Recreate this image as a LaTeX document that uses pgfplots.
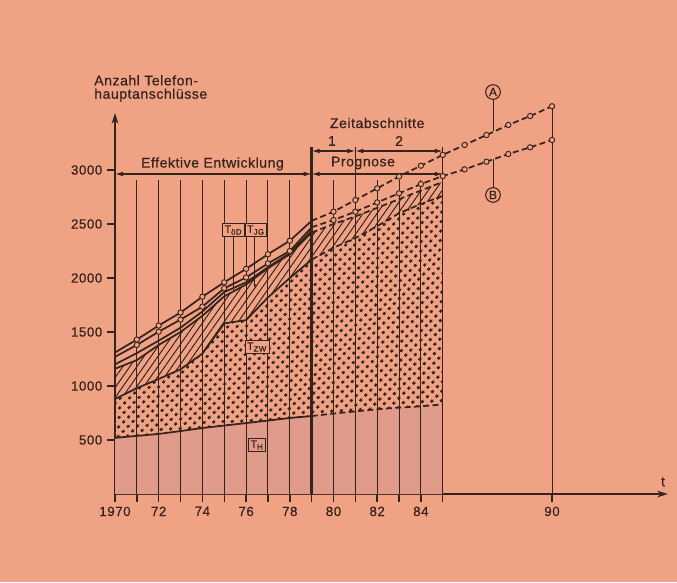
\documentclass[border=0pt]{standalone}
\usepackage{fontspec}
\setmainfont{Liberation Sans}[LetterSpace=4,FakeBold=0.6]
\usepackage{pgfplots}
\usepackage{pgfplotstable}
\pgfplotsset{compat=1.18}
\usepgfplotslibrary{fillbetween}
\usetikzlibrary{patterns.meta,arrows.meta}

\definecolor{bg}{RGB}{240,162,132}
\definecolor{ink}{RGB}{55,35,30}
\definecolor{thfill}{RGB}{225,155,139}

% L1 = T_H, L2 = +T_ZW, D = +T_JG, C, B, A = upper lines
\pgfplotstableread{
year L1  L2   D    C    B    A
1970 520 880  1160 1200 1270 1310
1971 538 980  1240 1305 1380 1430
1972 556 1065 1380 1420 1503 1560
1973 583 1155 1500 1540 1615 1680
1974 611 1300 1650 1690 1735 1827
1975 634 1580 1830 1870 1905 1960
1976 657 1610 1940 1960 2005 2085
1977 680 1820 2090 2100 2135 2220
1978 704 2000 2220 2230 2250 2345
1979 722 2170 2420 2440 2470 2530
1980 745 2280 2500 nan  2537 2614
1981 765 2370 2570 nan  2614 2722
1982 785 2480 2650 nan  2700 2830
1983 800 2600 2730 nan  2784 2940
1984 812 2685 2810 nan  2870 3040
1985 830 2760 2890 nan  2944 3140
1986 nan nan  nan  nan  3006 3232
1987 nan nan  nan  nan  3077 3324
1988 nan nan  nan  nan  3148 3417
1989 nan nan  nan  nan  3210 3500
1990 nan nan  nan  nan  3278 3590
}\stack

\begin{document}
\begin{tikzpicture}
\begin{axis}[
    set layers,
    at={(86.25pt,-370.5pt)}, anchor=south west,
    x=16.3875pt, y=0.081pt,
    xmin=1970, xmax=1995.3, ymin=0, ymax=3528,
    enlargelimits=false, clip=false,
    axis lines=left,
    axis line style={ink, line width=1.3pt, -{Stealth[length=8pt,width=5pt]}},
    xtick={1970,1971,...,1985,1990},
    xticklabels={1970,,72,,74,,76,,78,,80,,82,,84,,90},
    ytick={500,1000,...,3000},
    yticklabels={500,1000,1500,2000,2500,3000},
    tick align=outside, major tick length=6pt,
    tick style={ink, line width=1.1pt},
    every tick label/.append style={font=\fontsize{10}{12}\selectfont, text=ink},
    dashline/.style={ink, line width=1.3pt, dash pattern=on 4.5pt off 2.5pt},
    solidline/.style={ink, line width=1.3pt},
    circ/.style={only marks, mark=*, mark size=2pt,
        mark options={fill=bg, draw=ink, line width=0.7pt}},
]
% paper
\begin{pgfonlayer}{axis background}
\fill[bg] (axis cs:1964.737,4574.07) rectangle (axis cs:1995.72,-814.8);
\end{pgfonlayer}

% areas
\addplot[draw=none, name path=p1, forget plot, restrict x to domain=1970:1985] table[x=year,y=L1]{\stack};
\addplot[draw=none, name path=p2, forget plot, restrict x to domain=1970:1985] table[x=year,y=L2]{\stack};
\addplot[draw=none, name path=p3, forget plot, restrict x to domain=1970:1985] table[x=year,y=D]{\stack};
\path[name path=base] (axis cs:1970,0) -- (axis cs:1985,0);
\addplot[thfill, draw=none] fill between[of=base and p1];
\addplot[draw=none, pattern={Dots[distance=5.4pt,radius=1.45pt,angle=45]}, pattern color=ink] fill between[of=p1 and p2];
\addplot[draw=none, pattern={Lines[angle=55,distance=4.3pt,line width=0.75pt]}, pattern color=ink] fill between[of=p2 and p3];

% year lines
\pgfplotsinvokeforeach{1971,1972,...,1978,1980,1982,1983,1984}{
  \draw[ink, line width=0.7pt] (axis cs:#1,0) -- (axis cs:#1,2907);
}
\draw[ink, line width=0.7pt] (axis cs:1981,0) -- (axis cs:1981,3213);
\draw[ink, line width=0.7pt] (axis cs:1985,0) -- (axis cs:1985,3213);
\draw[ink, line width=2pt] (axis cs:1979,0) -- (axis cs:1979,3213);
\draw[ink, line width=0.7pt] (axis cs:1990,0) -- (axis cs:1990,3590);

% boundary lines
\addplot[solidline, restrict x to domain=1970:1979] table[x=year,y=L1]{\stack};
\addplot[solidline, restrict x to domain=1970:1979] table[x=year,y=L2]{\stack};
\addplot[solidline, restrict x to domain=1970:1979] table[x=year,y=D]{\stack};
\addplot[solidline, restrict x to domain=1970:1979] table[x=year,y=C]{\stack};
\addplot[solidline, restrict x to domain=1970:1979] table[x=year,y=B]{\stack};
\addplot[solidline, restrict x to domain=1970:1979] table[x=year,y=A]{\stack};
\addplot[dashline, restrict x to domain=1979:1985] table[x=year,y=L1]{\stack};
\addplot[dashline, restrict x to domain=1979:1985] table[x=year,y=L2]{\stack};
\addplot[dashline, restrict x to domain=1979:1985] table[x=year,y=D]{\stack};
\addplot[dashline, restrict x to domain=1979:1990] table[x=year,y=B]{\stack};
\addplot[dashline, restrict x to domain=1979:1990] table[x=year,y=A]{\stack};
\addplot[circ, restrict x to domain=1971:1978] table[x=year,y=B]{\stack};
\addplot[circ, restrict x to domain=1971:1978] table[x=year,y=A]{\stack};
\addplot[circ, restrict x to domain=1980:1990] table[x=year,y=B]{\stack};
\addplot[circ, restrict x to domain=1980:1990] table[x=year,y=A]{\stack};

% dimension lines
\draw[ink, line width=0.8pt, {Latex[length=6pt,width=3.5pt]}-{Latex[length=6pt,width=3.5pt]}]
  (axis cs:1970,2963) -- (axis cs:1979,2963);
\draw[ink, line width=0.8pt, {Latex[length=6pt,width=3.5pt]}-{Latex[length=6pt,width=3.5pt]}]
  (axis cs:1979,2963) -- (axis cs:1985,2963);
\draw[ink, line width=0.8pt, {Latex[length=6pt,width=3.5pt]}-{Latex[length=6pt,width=3.5pt]}]
  (axis cs:1979,3176) -- (axis cs:1981,3176);
\draw[ink, line width=0.8pt, {Latex[length=6pt,width=3.5pt]}-{Latex[length=6pt,width=3.5pt]}]
  (axis cs:1981,3176) -- (axis cs:1985,3176);

% texts
\node[anchor=north west, align=left, inner sep=0pt, text=ink, font=\fontsize{10.5}{10}\selectfont]
  at (axis cs:1969.04,3880) {Anzahl Telefon-\\hauptanschlüsse};
\node[text=ink, font=\fontsize{10.5}{12}\selectfont] at (axis cs:1974.46,3056) {Effektive Entwicklung};
\node[text=ink, font=\fontsize{10.5}{12}\selectfont] at (axis cs:1981.35,3065) {Prognose};
\node[text=ink, font=\fontsize{10.5}{12}\selectfont] at (axis cs:1982,3435) {Zeitabschnitte};
\node[text=ink, font=\fontsize{10.5}{12}\selectfont] at (axis cs:1979.93,3269) {1};
\node[text=ink, font=\fontsize{10.5}{12}\selectfont] at (axis cs:1983,3269) {2};
\node[text=ink, font=\fontsize{10.5}{12}\selectfont] at (axis cs:1995.08,111) {t};

% series labels
\draw[ink, line width=0.6pt] (axis cs:1975.4,2380) -- (axis cs:1975.4,1890);
\draw[ink, line width=0.6pt, -{Latex[length=3pt,width=2pt]}] (axis cs:1976.4,2380) -- (axis cs:1976.4,1905);
\node[draw=ink, fill=bg, line width=0.6pt, inner sep=1.5pt, text=ink, font=\fontsize{8}{9}\selectfont]
  at (axis cs:1975.42,2444) {T\textsubscript{öD}};
\node[draw=ink, fill=bg, line width=0.6pt, inner sep=1.5pt, text=ink, font=\fontsize{8}{9}\selectfont]
  at (axis cs:1976.45,2444) {T\textsubscript{JG}};
\node[draw=ink, fill=bg, line width=0.6pt, inner sep=1.5pt, text=ink, font=\fontsize{8}{9}\selectfont]
  at (axis cs:1976.5,1361) {T\textsubscript{ZW}};
\node[draw=ink, fill=thfill, line width=0.6pt, inner sep=1.5pt, text=ink, font=\fontsize{8}{9}\selectfont]
  at (axis cs:1976.5,454) {T\textsubscript{H}};

\draw[ink, line width=0.6pt] (axis cs:1987.3,3648) -- (axis cs:1987.3,3360);
\draw[ink, line width=0.6pt] (axis cs:1987.3,2843) -- (axis cs:1987.3,3100);
\node[circle, draw=ink, fill=bg, line width=0.8pt, inner sep=0pt, minimum size=11pt,
  text=ink, font=\fontsize{9}{9}\selectfont] at (axis cs:1987.3,3722) {A};
\node[circle, draw=ink, fill=bg, line width=0.8pt, inner sep=0pt, minimum size=11pt,
  text=ink, font=\fontsize{9}{9}\selectfont] at (axis cs:1987.3,2769) {B};
\end{axis}
\pgfresetboundingbox
\useasboundingbox (0,0) rectangle (507.75pt,-436.5pt);
\end{tikzpicture}
\end{document}
